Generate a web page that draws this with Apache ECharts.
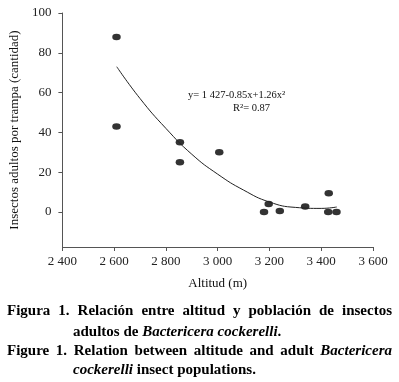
<!DOCTYPE html>
<html>
<head>
<meta charset="utf-8">
<script src="https://cdn.jsdelivr.net/npm/echarts@6/dist/echarts.min.js"></script>
<style>
html, body { margin: 0; padding: 0; background: #fff; }
#chart { width: 399px; height: 382px; }
</style>
</head>
<body>
<div id="chart"></div>
<script>
// observed points
var altitud = [2609, 2609, 2854, 2854, 3006, 3179, 3197, 3240, 3338, 3429, 3427, 3459];
var insectos = [88, 43, 35, 25, 30, 0, 4, 0.5, 2.7, 9.4, 0, 0];

// fitted curve
var curvaX = [2610, 2700, 2800, 2900, 3000, 3100, 3200, 3300, 3400, 3460];
var curvaY = [73, 57, 42, 29, 19, 11, 5, 2.3, 1.8, 2.5];

var ecuacion = 'y= 1 427-0.85x+1.26x²';
var r2 = 'R²= 0.87';

var FONT = '"Liberation Serif", "Times New Roman", serif';
var CAP = 15;
var chart = echarts.init(document.getElementById('chart'));

function miles(v) {
    var s = String(v);
    return s.length > 3 ? s.slice(0, s.length - 3) + ' ' + s.slice(-3) : s;
}

// justify a caption line by spreading the words between x0 and x1
var ctx = document.createElement('canvas').getContext('2d');
function justify(words, x0, x1, y) {
    var fonts = words.map(function (w) {
        return (w.it ? 'italic ' : '') + 'bold ' + CAP + 'px ' + FONT;
    });
    var widths = words.map(function (w, i) {
        ctx.font = fonts[i];
        return ctx.measureText(w.t).width;
    });
    var total = widths.reduce(function (a, b) { return a + b; }, 0);
    var gap = (x1 - x0 - total) / (words.length - 1);
    var x = x0, out = [];
    words.forEach(function (w, i) {
        out.push({
            type: 'text', left: x, top: y,
            style: { text: w.t, font: fonts[i], fill: '#000' }
        });
        x += widths[i] + gap;
    });
    return out;
}

function palabras(s, italicas) {
    return s.split(' ').map(function (t) { return { t: t, it: italicas.indexOf(t) >= 0 }; });
}

var rich = { i: { fontStyle: 'italic', fontWeight: 'bold', fontSize: CAP, fontFamily: FONT } };

var caption = []
    .concat(justify(palabras('Figura 1. Relación entre altitud y población de insectos', []), 7, 392, 304))
    .concat(justify(palabras('Figure 1. Relation between altitude and adult Bactericera', ['Bactericera']), 7, 392, 344));

caption.push({
    type: 'text', left: 73, top: 325,
    style: { text: 'adultos de {i|Bactericera cockerelli}.', font: 'bold ' + CAP + 'px ' + FONT, fill: '#000', rich: rich }
});
caption.push({
    type: 'text', left: 73, top: 363,
    style: { text: '{i|cockerelli} insect populations.', font: 'bold ' + CAP + 'px ' + FONT, fill: '#000', rich: rich }
});
caption.push({
    type: 'text', left: 188, top: 90,
    style: { text: ecuacion, font: '10.5px ' + FONT, fill: '#111' }
});
caption.push({
    type: 'text', left: 233, top: 103,
    style: { text: r2, font: '10.5px ' + FONT, fill: '#111' }
});

var axisColor = '#555';

chart.setOption({
    animation: false,
    backgroundColor: '#fff',
    textStyle: { fontFamily: FONT },
    grid: { left: 50, right: 26, top: 13, bottom: 135 },
    xAxis: {
        type: 'value',
        min: 2400, max: 3600, interval: 200,
        name: 'Altitud (m)',
        nameLocation: 'middle',
        nameGap: 30,
        nameTextStyle: { fontSize: 13, color: '#111', fontFamily: FONT },
        axisLine: { show: true, onZero: false, lineStyle: { color: axisColor, width: 1 } },
        axisTick: { show: true, length: 4, lineStyle: { color: axisColor } },
        axisLabel: { fontSize: 13, color: '#222', margin: 8, formatter: miles, fontFamily: FONT },
        splitLine: { show: false }
    },
    yAxis: {
        type: 'value',
        min: -17.6, max: 100,
        name: 'Insectos adultos por trampa (cantidad)',
        nameLocation: 'middle',
        nameGap: 30,
        nameTextStyle: { fontSize: 13, color: '#111', fontFamily: FONT },
        axisLine: { show: true, onZero: false, lineStyle: { color: axisColor, width: 1 } },
        axisTick: { show: true, length: 4, lineStyle: { color: axisColor } },
        axisLabel: { fontSize: 13, color: '#222', margin: 11, showMinLabel: false, fontFamily: FONT },
        splitLine: { show: false }
    },
    series: [
        {
            type: 'line',
            data: curvaX.map(function (x, i) { return [x, curvaY[i]]; }),
            smooth: true,
            showSymbol: false,
            lineStyle: { color: '#222', width: 1 }
        },
        {
            type: 'scatter',
            data: altitud.map(function (x, i) { return [x, insectos[i]]; }),
            symbol: 'circle',
            symbolSize: [8.5, 6.5],
            itemStyle: { color: '#000' }
        }
    ],
    graphic: caption
});
</script>
</body>
</html>
